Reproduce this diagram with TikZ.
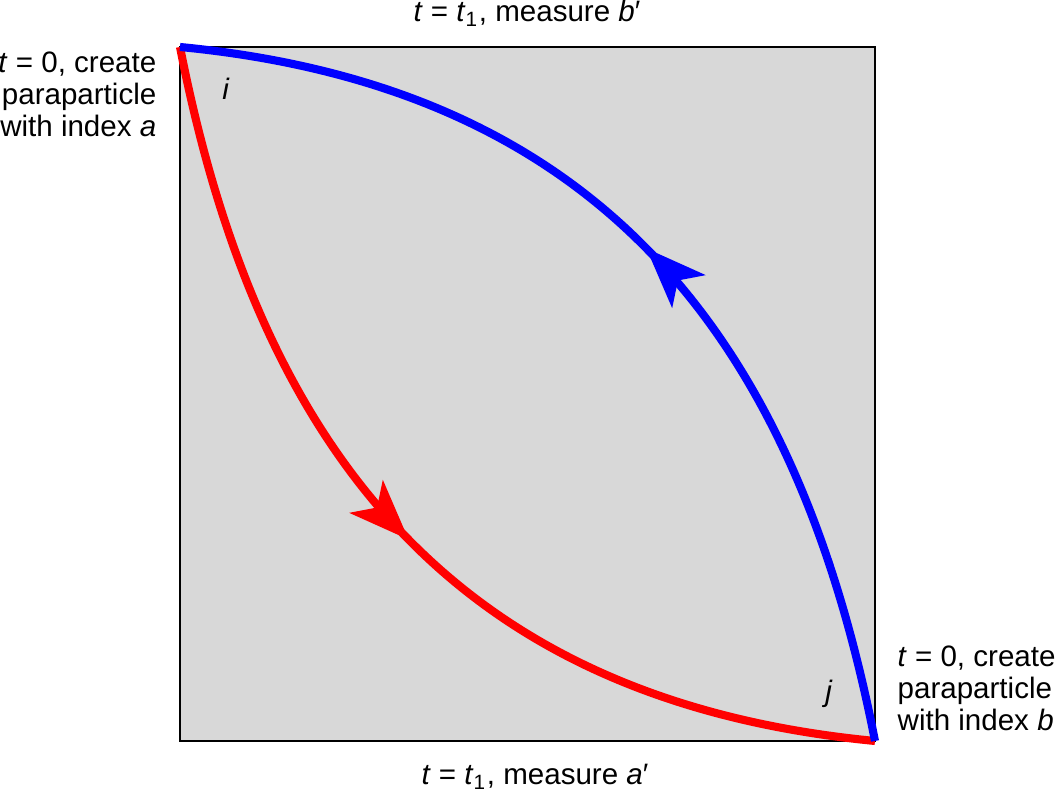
\documentclass[tikz,border=0pt]{standalone}
\usepackage{fontspec}
\setmainfont{Liberation Sans}
\usetikzlibrary{arrows.meta}
\usetikzlibrary{decorations.markings}
\definecolor{boxgray}{RGB}{216,216,216}
\definecolor{pathred}{RGB}{255,0,0}
\definecolor{pathblue}{RGB}{0,0,255}
\tikzset{
	worldline/.style={line width=2.3pt},
	midarrow/.style={postaction={decorate, decoration={markings,
		mark=at position 0.515 with {\arrow{Stealth[length=0.6cm, width=0.46cm, inset=0.15cm]}}}}},
	lbl/.style={inner sep=0pt, font=\fontsize{8.4}{9.1}\selectfont},
}
\begin{document}
\begin{tikzpicture}[x=0.01cm, y=-0.01cm]
	% frame: 1056 x 795 px, y runs downward
	\useasboundingbox (0,0) rectangle (1056,795);
	% shaded square
	\draw[line width=0.6pt, fill=boxgray] (180,47) rectangle (875,741);
	\coordinate (tl) at (180,47);
	\coordinate (br) at (875,741);
	
	% red path: i -> j
	\draw[worldline, pathred, midarrow] (tl) .. controls (258,445) and (450,700) .. (br);
	% blue path: j -> i
	\draw[worldline, pathblue, midarrow] (br) .. controls (797,343) and (605,88) .. (tl);
	
	\node[lbl, anchor=base] (ilbl) at (226,100) {\textit{i}};
	\node[lbl, anchor=base] (jlbl) at (829,702) {\textit{j}};
	
	\node[lbl, anchor=base] (meas b) at (527,22) {\textit{t} = \textit{t}\textsubscript{1}, measure \textit{b}′};
	\node[lbl, anchor=base] (meas a) at (535,785) {\textit{t} = \textit{t}\textsubscript{1}, measure \textit{a}′};
	
	% multi-line labels: base is the last line
	\node[lbl, anchor=base east, align=right] (create a) at (157,137)
		{\textit{t} = 0, create\\paraparticle\\with index \textit{a}};
	\node[lbl, anchor=base west, align=left] (create b) at (897,731)
		{\textit{t} = 0, create\\paraparticle\\with index \textit{b}};
\end{tikzpicture}
\end{document}
